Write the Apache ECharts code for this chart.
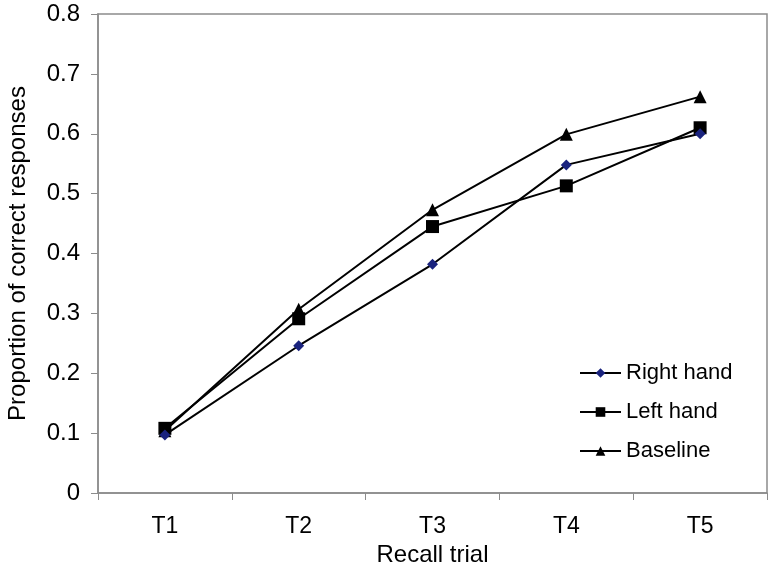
<!DOCTYPE html>
<html>
<head>
<meta charset="utf-8">
<script src="https://cdn.jsdelivr.net/npm/echarts@6/dist/echarts.min.js"></script>
<style>html,body{margin:0;padding:0;background:#fff}#c{width:776px;height:569px}</style>
</head>
<body>
<div id="c"></div>
<script>
var categories = ['T1', 'T2', 'T3', 'T4', 'T5'];
var rightHand = [0.097, 0.246, 0.382, 0.548, 0.600];
var leftHand = [0.108, 0.291, 0.445, 0.513, 0.610];
var baseline = [0.104, 0.307, 0.473, 0.599, 0.662];

var FONT = '"Liberation Sans", Arial, sans-serif';
var chart = echarts.init(document.getElementById('c'));
chart.setOption({
  animation: false,
  textStyle: {fontFamily: FONT},
  grid: {left: 98, right: 9, top: 14, bottom: 76, show: true, borderColor: '#8c8c8c', borderWidth: 1.5,
         containLabel: false, outerBoundsMode: 'none'},
  legend: {
    orient: 'vertical', left: 574, top: 357, itemWidth: 41, itemHeight: 12, itemGap: 17,
    textStyle: {fontSize: 22, color: '#000', fontFamily: FONT},
    data: ['Right hand', 'Left hand', 'Baseline']
  },
  xAxis: {
    type: 'category', data: categories, boundaryGap: true,
    axisLine: {lineStyle: {color: '#8c8c8c', width: 1.5}},
    axisTick: {show: true, interval: 0, length: 7, lineStyle: {color: '#8c8c8c'}},
    axisLabel: {fontSize: 23, color: '#000', margin: 22, fontFamily: FONT},
    name: 'Recall trial', nameLocation: 'middle', nameGap: 42,
    nameTextStyle: {fontSize: 24, color: '#000', fontFamily: FONT}
  },
  yAxis: {
    type: 'value', min: 0, max: 0.8, interval: 0.1,
    splitLine: {show: false},
    axisLine: {show: true, lineStyle: {color: '#8c8c8c', width: 1.5}},
    axisTick: {show: true, length: 7, lineStyle: {color: '#8c8c8c'}},
    axisLabel: {fontSize: 24, color: '#000', margin: 18, fontFamily: FONT},
    name: 'Proportion of correct responses', nameLocation: 'middle', nameGap: 68,
    nameTextStyle: {fontSize: 24, color: '#000', fontFamily: FONT}
  },
  series: [
    {name: 'Right hand', type: 'line', data: rightHand, symbol: 'diamond', symbolSize: 11,
     lineStyle: {color: '#000', width: 2}, itemStyle: {color: '#1a237e'}, z: 3},
    {name: 'Left hand', type: 'line', data: leftHand, symbol: 'rect', symbolSize: 13,
     lineStyle: {color: '#000', width: 2}, itemStyle: {color: '#000'}, z: 2},
    {name: 'Baseline', type: 'line', data: baseline, symbol: 'triangle', symbolSize: 13,
     lineStyle: {color: '#000', width: 2}, itemStyle: {color: '#000'}, z: 1}
  ]
});
</script>
</body>
</html>
